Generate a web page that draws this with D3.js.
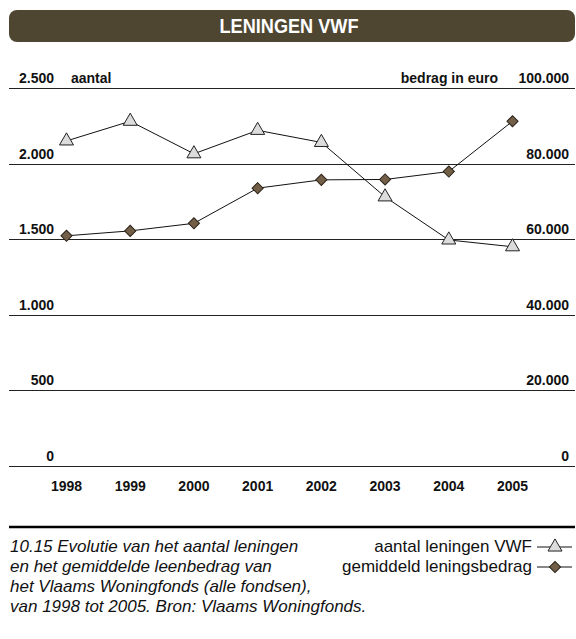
<!DOCTYPE html>
<html>
<head>
<meta charset="utf-8">
<script src="https://cdn.jsdelivr.net/npm/d3@7"></script>
<style>
  html, body { margin: 0; padding: 0; background: #ffffff; }
  svg { display: block; }
</style>
</head>
<body>
<div id="chart"></div>
<script>
// ---- data ----
const years = ["1998", "1999", "2000", "2001", "2002", "2003", "2004", "2005"];
const aantalLeningen = [2150, 2280, 2065, 2220, 2140, 1780, 1495, 1450];
const gemiddeldBedrag = [60900, 62200, 64200, 73500, 75700, 75800, 77900, 91200];
const leftTicks = [0, 500, 1000, 1500, 2000, 2500];
const rightTicks = [0, 20000, 40000, 60000, 80000, 100000];
const titleText = "LENINGEN VWF";
const leftAxisTitle = "aantal";
const rightAxisTitle = "bedrag in euro";
const legendLabels = ["aantal leningen VWF", "gemiddeld leningsbedrag"];
const captionLines = [
  "10.15  Evolutie van het aantal leningen",
  "en het gemiddelde leenbedrag van",
  "het Vlaams Woningfonds (alle fondsen),",
  "van 1998 tot 2005. Bron: Vlaams Woningfonds."
];

// ---- layout ----
const W = 576, H = 639;
const svg = d3.select("#chart").append("svg").attr("width", W).attr("height", H);
const boldFont = "'Liberation Sans', Arial, sans-serif";
const fmt = d3.formatLocale({decimal: ",", thousands: ".", grouping: [3], currency: ["€", ""]}).format(",d");

const x = d3.scalePoint().domain(years).range([66.5, 512.5]);
const yL = d3.scaleLinear().domain([0, 2500]).range([466, 88]);
const yR = d3.scaleLinear().domain([0, 100000]).range([466, 88]);

// title bar
svg.append("rect").attr("x", 9).attr("y", 10).attr("width", 566).attr("height", 32)
  .attr("rx", 8).attr("fill", "#4e4631");
svg.append("text").attr("x", 289).attr("y", 33).attr("text-anchor", "middle")
  .attr("font-family", boldFont).attr("font-weight", "bold").attr("font-size", 20)
  .attr("textLength", 139).attr("lengthAdjust", "spacingAndGlyphs")
  .attr("fill", "#ffffff").text(titleText);

// gridlines
svg.append("g").selectAll("line").data(leftTicks).join("line")
  .attr("x1", 9).attr("x2", 575)
  .attr("y1", d => Math.round(yL(d)) + 0.5).attr("y2", d => Math.round(yL(d)) + 0.5)
  .attr("stroke", "#222").attr("stroke-width", 1.2);

const axisFs = 14;
// left tick labels
svg.append("g").selectAll("text").data(leftTicks).join("text")
  .attr("x", 54).attr("y", d => yL(d) - 5).attr("text-anchor", "end")
  .attr("font-family", boldFont).attr("font-weight", "bold").attr("font-size", axisFs)
  .attr("fill", "#111").text(d => fmt(d));

// right tick labels
svg.append("g").selectAll("text").data(rightTicks).join("text")
  .attr("x", 569).attr("y", d => yR(d) - 5).attr("text-anchor", "end")
  .attr("font-family", boldFont).attr("font-weight", "bold").attr("font-size", axisFs)
  .attr("fill", "#111").text(d => fmt(d));

// axis titles
svg.append("text").attr("x", 71).attr("y", yL(2500) - 5)
  .attr("font-family", boldFont).attr("font-weight", "bold").attr("font-size", axisFs)
  .attr("fill", "#111").text(leftAxisTitle);
svg.append("text").attr("x", 498).attr("y", yR(100000) - 5).attr("text-anchor", "end")
  .attr("font-family", boldFont).attr("font-weight", "bold").attr("font-size", axisFs)
  .attr("fill", "#111").text(rightAxisTitle);

// year labels
svg.append("g").selectAll("text").data(years).join("text")
  .attr("x", d => x(d)).attr("y", 491).attr("text-anchor", "middle")
  .attr("font-family", boldFont).attr("font-weight", "bold").attr("font-size", axisFs)
  .attr("fill", "#111").text(d => d);

// series lines
const lineA = d3.line().x((d, i) => x(years[i])).y(d => yL(d));
const lineB = d3.line().x((d, i) => x(years[i])).y(d => yR(d));
svg.append("path").attr("d", lineA(aantalLeningen)).attr("fill", "none").attr("stroke", "#111").attr("stroke-width", 1);
svg.append("path").attr("d", lineB(gemiddeldBedrag)).attr("fill", "none").attr("stroke", "#111").attr("stroke-width", 1);

const tri = d3.symbol().type(d3.symbolTriangle).size(85);
const dia = d3.symbol().type(d3.symbolSquare).size(62);

function drawTri(g, cx, cy) {
  g.append("path").attr("d", tri()).attr("transform", `translate(${cx},${cy})`)
    .attr("fill", "#dcdcdc").attr("stroke", "#222").attr("stroke-width", 1);
}
function drawDia(g, cx, cy) {
  g.append("path").attr("d", dia()).attr("transform", `translate(${cx},${cy}) rotate(45)`)
    .attr("fill", "#735f48").attr("stroke", "#2a2218").attr("stroke-width", 1);
}

const gm = svg.append("g");
gemiddeldBedrag.forEach((v, i) => drawDia(gm, x(years[i]), yR(v)));
aantalLeningen.forEach((v, i) => drawTri(gm, x(years[i]), yL(v)));

// separator
svg.append("line").attr("x1", 9).attr("x2", 575).attr("y1", 527).attr("y2", 527)
  .attr("stroke", "#000").attr("stroke-width", 2.5);

// caption
const capFont = "'Liberation Sans', Arial, sans-serif";
const capFs = 17;
svg.append("g").selectAll("text").data(captionLines).join("text")
  .attr("x", 10).attr("y", (d, i) => 552 + i * 20)
  .attr("font-family", capFont).attr("font-style", "italic").attr("font-size", capFs)
  .attr("fill", "#111").text(d => d);

// legend
const lg = svg.append("g");
legendLabels.forEach((t, i) => {
  const by = 552 + i * 20;
  lg.append("text").attr("x", 532).attr("y", by).attr("text-anchor", "end")
    .attr("font-family", capFont).attr("font-size", capFs).attr("fill", "#111").text(t);
  lg.append("line").attr("x1", 537).attr("x2", 572).attr("y1", by - 5).attr("y2", by - 5)
    .attr("stroke", "#111").attr("stroke-width", 1);
  if (i === 0) drawTri(lg, 555, by - 5); else drawDia(lg, 555, by - 5);
});
</script>
</body>
</html>
